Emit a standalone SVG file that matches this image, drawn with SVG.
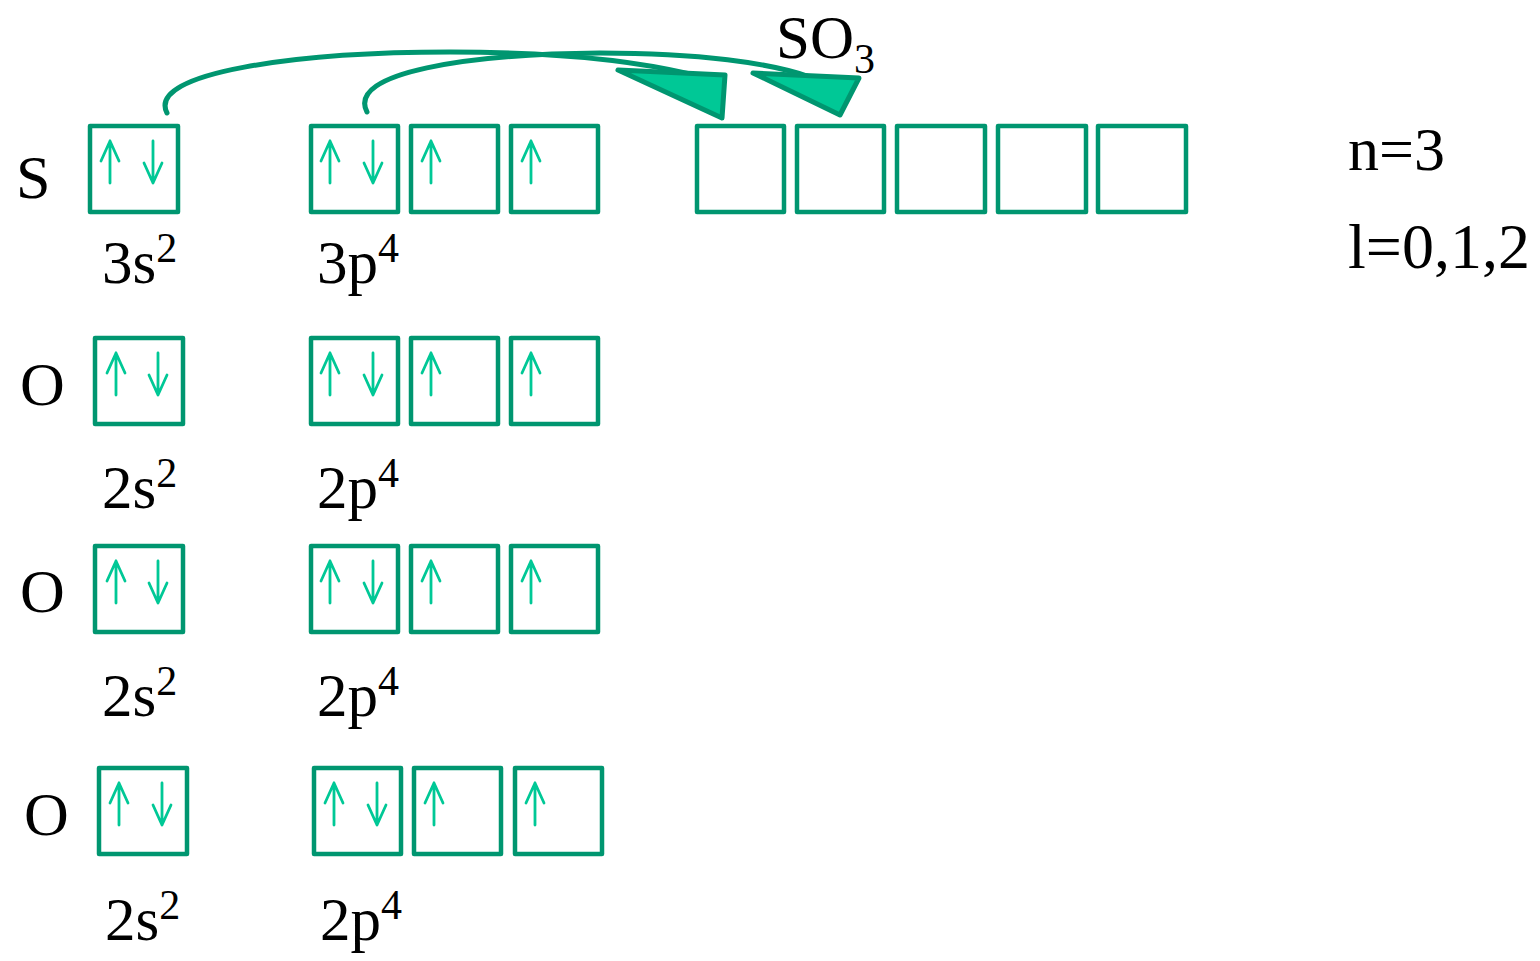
<svg xmlns="http://www.w3.org/2000/svg" xmlns:xlink="http://www.w3.org/1999/xlink" width="1540" height="961" viewBox="0 0 1540 961">
<style>
.box{fill:none;stroke:#009670;stroke-width:4.5;stroke-linejoin:round}
.spin{fill:none;stroke:#00C896;stroke-width:2.8;stroke-linecap:round;stroke-linejoin:round}
.t{font-family:"Liberation Serif","Times New Roman",serif;font-size:61px;fill:#000}
.sup{font-size:42px}
.con{fill:none;stroke:#009670;stroke-width:5;stroke-linecap:round}
.head{fill:#00C896;stroke:#009670;stroke-width:5;stroke-linejoin:round}
</style>
<defs>
<path id="up" class="spin" d="M0,0 V42 M-9,20 L0,0 L9,20"/>
<path id="dn" class="spin" d="M0,0 V42 M-9,22 L0,42 L9,22"/>
</defs>
<rect width="1540" height="961" fill="#fff"/>

<g id="connectors">
<path class="con" d="M167,113 C146,72 300,52 450,52 C560,52 640,62 690,74"/>
<path class="con" d="M367,112 C346,72 470,54 600,53 C700,53 770,63 810,77"/>
<polygon class="head" points="618,70 725,75 722,118"/>
<polygon class="head" points="753,73 859,78 840,115"/>
</g>

<g id="label-SO3"><text class="t" x="776" y="58">SO<tspan class="sup" dy="15">3</tspan></text></g>
<g id="label-n"><text class="t" x="1348" y="170" style="font-size:62px">n=3</text></g>
<g id="label-l"><text class="t" x="1348" y="268" style="font-size:64px">l=0,1,2</text></g>

<g id="row-S">
<text class="t" x="16" y="198" style="font-size:62px">S</text>
<rect class="box" x="90" y="126" width="88" height="86"/>
<use href="#up" x="110" y="141"/><use href="#dn" x="153" y="141"/>
<rect class="box" x="311" y="126" width="87" height="86"/>
<use href="#up" x="330" y="141"/><use href="#dn" x="373" y="141"/>
<rect class="box" x="411" y="126" width="87" height="86"/>
<use href="#up" x="431" y="141"/>
<rect class="box" x="511" y="126" width="87" height="86"/>
<use href="#up" x="531" y="141"/>
<rect class="box" x="697" y="126" width="87" height="86"/>
<rect class="box" x="797" y="126" width="87" height="86"/>
<rect class="box" x="897" y="126" width="88" height="86"/>
<rect class="box" x="998" y="126" width="88" height="86"/>
<rect class="box" x="1098" y="126" width="88" height="86"/>
<text class="t" x="102" y="283">3s<tspan class="sup" dy="-21">2</tspan></text>
<text class="t" x="317" y="283">3p<tspan class="sup" dy="-21">4</tspan></text>
</g>

<g id="row-O1">
<text class="t" x="20" y="405" style="font-size:62px">O</text>
<rect class="box" x="95" y="338" width="88" height="86"/>
<use href="#up" x="116" y="353"/><use href="#dn" x="158" y="353"/>
<rect class="box" x="311" y="338" width="87" height="86"/>
<use href="#up" x="330" y="353"/><use href="#dn" x="373" y="353"/>
<rect class="box" x="411" y="338" width="87" height="86"/>
<use href="#up" x="431" y="353"/>
<rect class="box" x="511" y="338" width="87" height="86"/>
<use href="#up" x="531" y="353"/>
<text class="t" x="102" y="508">2s<tspan class="sup" dy="-21">2</tspan></text>
<text class="t" x="317" y="508">2p<tspan class="sup" dy="-21">4</tspan></text>
</g>

<g id="row-O2">
<text class="t" x="20" y="612" style="font-size:62px">O</text>
<rect class="box" x="95" y="546" width="88" height="86"/>
<use href="#up" x="116" y="561"/><use href="#dn" x="158" y="561"/>
<rect class="box" x="311" y="546" width="87" height="86"/>
<use href="#up" x="330" y="561"/><use href="#dn" x="373" y="561"/>
<rect class="box" x="411" y="546" width="87" height="86"/>
<use href="#up" x="431" y="561"/>
<rect class="box" x="511" y="546" width="87" height="86"/>
<use href="#up" x="531" y="561"/>
<text class="t" x="102" y="716">2s<tspan class="sup" dy="-21">2</tspan></text>
<text class="t" x="317" y="716">2p<tspan class="sup" dy="-21">4</tspan></text>
</g>

<g id="row-O3">
<text class="t" x="24" y="835" style="font-size:62px">O</text>
<rect class="box" x="99" y="768" width="88" height="86"/>
<use href="#up" x="119" y="783"/><use href="#dn" x="162" y="783"/>
<rect class="box" x="314" y="768" width="87" height="86"/>
<use href="#up" x="334" y="783"/><use href="#dn" x="377" y="783"/>
<rect class="box" x="414" y="768" width="87" height="86"/>
<use href="#up" x="434" y="783"/>
<rect class="box" x="515" y="768" width="87" height="86"/>
<use href="#up" x="535" y="783"/>
<text class="t" x="105" y="940">2s<tspan class="sup" dy="-21">2</tspan></text>
<text class="t" x="320" y="940">2p<tspan class="sup" dy="-21">4</tspan></text>
</g>
</svg>
